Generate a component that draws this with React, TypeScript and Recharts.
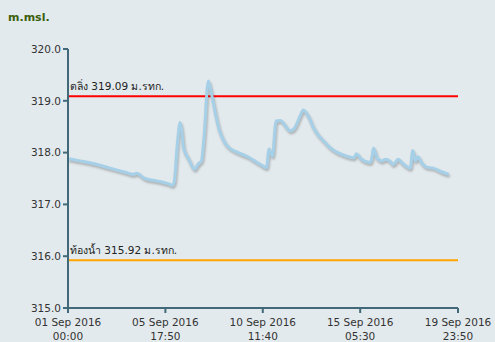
import React from 'react';
import { LineChart, Line, XAxis, YAxis, ReferenceLine } from 'recharts';

// hours since 01 Sep 2016 00:00
const hours = [
  0, 14, 32, 49, 67, 76, 80, 90, 105, 117, 122, 124, 128, 131, 133, 135, 141, 148, 152, 156,
  159, 164, 167, 170, 173, 176, 180, 186, 199, 209, 228, 232, 235, 239, 243, 248, 260, 265,
  271, 275, 281, 287, 292, 298, 306, 326, 334, 337, 343, 353, 355, 357, 361, 367, 371, 376,
  380, 386, 390, 400, 403, 406, 409, 413, 419, 427, 435, 445,
];
const levels = [
  317.88, 317.84, 317.78, 317.7, 317.62, 317.58, 317.6, 317.5, 317.45, 317.4, 317.37, 317.42,
  318.2, 318.58, 318.4, 318.09, 317.88, 317.68, 317.78, 317.84, 318.3, 319.38, 319.2, 318.94,
  318.7, 318.48, 318.3, 318.13, 318.0, 317.93, 317.74, 317.71, 318.07, 317.93, 318.61, 318.62,
  318.42, 318.48, 318.7, 318.82, 318.7, 318.48, 318.35, 318.24, 318.1, 317.93, 317.9, 317.98,
  317.87, 317.81, 317.88, 318.09, 317.9, 317.84, 317.87, 317.84, 317.77, 317.87, 317.81,
  317.7, 318.04, 317.84, 317.92, 317.81, 317.72, 317.7, 317.64, 317.58,
];

const xTicks = [0, 113.833, 227.667, 341.5, 455.833];
const xTickLabels = [
  ['01 Sep 2016', '00:00'],
  ['05 Sep 2016', '17:50'],
  ['10 Sep 2016', '11:40'],
  ['15 Sep 2016', '05:30'],
  ['19 Sep 2016', '23:50'],
];
const yTicks = [315, 316, 317, 318, 319, 320];

const bankLevel = 319.09;
const bedLevel = 315.92;
const bankLabel = 'ตลิ่ง 319.09 ม.รทก.';
const bedLabel = 'ท้องน้ำ 315.92 ม.รทก.';

const data = hours.map((h, i) => ({ h, level: levels[i] }));

const axisColor = '#41697a';
const font = '"DejaVu Sans", Verdana, sans-serif';

const XTick = (props: any) => {
  const { x, y, index } = props;
  const lines = xTickLabels[index] || ['', ''];
  return (
    <text x={x} y={y} textAnchor="middle" fontSize={10.5} fill="#333" fontFamily={font}>
      <tspan x={x} dy={11}>{lines[0]}</tspan>
      <tspan x={x} dy={14}>{lines[1]}</tspan>
    </text>
  );
};

const refLabel = (text: string) => (props: any) => {
  const { viewBox } = props;
  return (
    <text x={viewBox.x + 2} y={viewBox.y - 6} fontSize={10.5} fill="#222" fontFamily={font}>
      {text}
    </text>
  );
};

export default function App() {
  return (
    <div
      style={{
        position: 'absolute',
        left: 0,
        top: 0,
        width: 495,
        height: 342,
        background: '#e3eaed',
      }}
    >
      <style>{`.level-line path { filter: drop-shadow(1px 2px 1px rgba(0,0,0,0.25)); }`}</style>
      <div
        style={{
          position: 'absolute',
          left: 8,
          top: 11,
          fontFamily: font,
          fontWeight: 'bold',
          fontSize: 11,
          color: '#3b5f0c',
        }}
      >
        m.msl.
      </div>
      <LineChart width={495} height={342} data={data} margin={{ top: 49, right: 37, bottom: 0, left: 0 }}>
        <XAxis
          dataKey="h"
          type="number"
          domain={[0, 455.833]}
          ticks={xTicks}
          interval={0}
          height={34}
          stroke={axisColor}
          strokeWidth={2}
          tickSize={5}
          tickLine={{ stroke: axisColor, strokeWidth: 2 }}
          tick={<XTick />}
        />
        <YAxis
          type="number"
          domain={[315, 320]}
          ticks={yTicks}
          interval={0}
          width={68}
          stroke={axisColor}
          strokeWidth={2}
          tickSize={5}
          tickLine={{ stroke: axisColor, strokeWidth: 2 }}
          tickFormatter={(v: number) => v.toFixed(1)}
          tick={{ fontSize: 10.5, fill: '#333', fontFamily: font }}
        />
        <ReferenceLine y={bankLevel} stroke="#ff0000" strokeWidth={2} label={refLabel(bankLabel)} />
        <ReferenceLine y={bedLevel} stroke="#ffa500" strokeWidth={2} label={refLabel(bedLabel)} />
        <Line
          className="level-line"
          type="monotone"
          dataKey="level"
          stroke="#a6d0e8"
          strokeWidth={3}
          dot={false}
          isAnimationActive={false}
        />
      </LineChart>
    </div>
  );
}
